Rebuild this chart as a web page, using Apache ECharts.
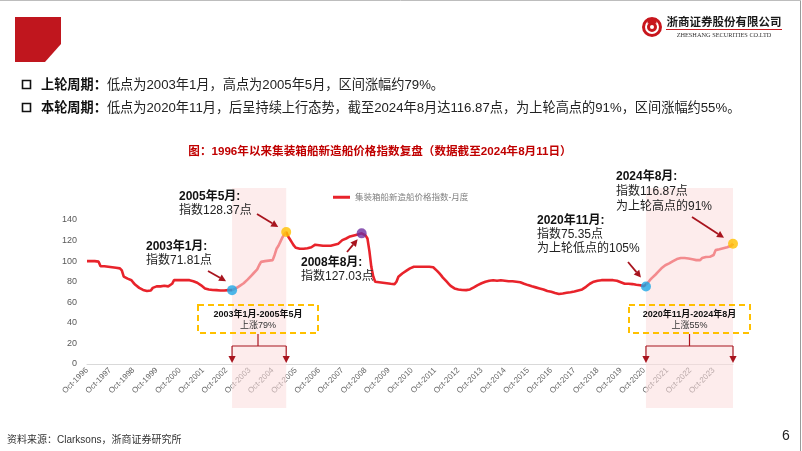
<!DOCTYPE html>
<html><head><meta charset="utf-8">
<script src="https://cdn.jsdelivr.net/npm/echarts@6/dist/echarts.min.js"></script>
<style>html,body{margin:0;padding:0;background:#fff}#c{width:802px;height:451px}</style>
</head><body><div id="c"></div>
<script>
// ---- data: monthly index values (Oct-1996 .. Aug-2024) ----
const y1996 = [100, 100, 100]; // Oct-Dec
const y1997 = [100, 100, 100, 99.5, 95, 95, 95, 94.5, 94.5, 94, 94, 94];
const y1998 = [93.5, 93, 93, 91, 85, 84, 83, 82, 81.5, 79, 77, 76];
const y1999 = [74, 72.5, 72, 71, 71, 71, 71.5, 74, 75.5, 75.5, 75, 75.5];
const y2000 = [75.5, 76, 76, 75.5, 76, 78, 81.5, 81.5, 81.5, 81.5, 81.5, 81.5];
const y2001 = [81.5, 81, 81.5, 81, 80.5, 80, 79, 78, 76.5, 75, 73.5, 73];
const y2002 = [72.5, 72, 72, 72, 71.8, 71.8, 71.5, 71.5, 71.5, 71.5, 71.8, 71.8];
const y2003 = [71.81, 72.5, 73.5, 75, 76, 77, 78.5, 80, 82, 84, 86, 88];
const y2004 = [89.6, 92, 96, 99.3, 100, 100, 100.5, 100.5, 101, 101, 106, 112];
const y2005 = [115, 119, 123, 126, 128.37, 124, 121, 118, 115, 113, 112.3, 112];
const y2006 = [112, 112, 112.3, 112.5, 112.3, 113.5, 115, 116, 116, 115.5, 115, 115];
const y2007 = [115, 115, 114.5, 115, 115.5, 116, 116, 117, 118.5, 120.4, 121.5, 122];
const y2008 = [123, 124, 124.3, 125, 125.5, 126, 126.5, 127.03, 126.5, 125, 122, 110];
const y2009 = [94.5, 85, 80, 79.5, 79.5, 79, 79, 78.5, 78.5, 78.3, 78, 78];
const y2010 = [77.7, 80, 84.8, 86.5, 88, 89, 90.5, 92, 93, 94, 94.5, 94.5];
const y2011 = [94.5, 94.5, 94.5, 94.5, 94.5, 94.5, 94.5, 94.3, 94, 92.5, 90.5, 88.5];
const y2012 = [86.4, 84, 82, 80, 78, 76, 74.5, 73.5, 73, 72.5, 72, 72];
const y2013 = [71.8, 71.8, 71.8, 72.5, 73.5, 74.5, 75.5, 76.7, 77.5, 78.5, 79, 80];
const y2014 = [80.5, 81, 81.5, 81.5, 81.5, 81, 81, 81.5, 81.5, 81, 80.8, 80.5];
const y2015 = [80.5, 80.5, 80.3, 80, 80, 79.5, 78.5, 78, 77.5, 76.7, 76, 75.5];
const y2016 = [75, 74.5, 74, 73.5, 73.5, 72.5, 71.5, 71, 70.5, 70.2, 69.5, 69];
const y2017 = [68.6, 68, 68, 68.5, 69, 69.2, 69.5, 69.8, 70, 70.5, 71, 71.5];
const y2018 = [71.8, 72.5, 73.5, 75, 76.5, 78, 79, 80, 80.5, 81, 81.5, 81.5];
const y2019 = [81.5, 81.5, 81.5, 81.5, 81.5, 81.5, 81.5, 81, 80.5, 79.5, 78.3, 78];
const y2020 = [78, 78, 77.7, 77.7, 77.5, 77, 77, 76.5, 76, 75.7, 75.35, 79];
const y2021 = [81.5, 83.5, 85, 87, 89, 91, 93, 94.5, 96, 97, 97.8, 99];
const y2022 = [100, 101, 102, 102.6, 103, 103, 103, 102.6, 102.6, 102, 101.8, 101.5];
const y2023 = [101, 101, 101, 103, 104.2, 104, 104.2, 104.2, 104.2, 106, 110.7, 111];
const y2024 = [111.5, 112, 112.5, 113, 113.5, 114, 115, 116.87]; // Jan-Aug

const seriesName = '集装箱船新造船价格指数-月度';
const monthAbbr = ['Jan','Feb','Mar','Apr','May','Jun','Jul','Aug','Sep','Oct','Nov','Dec'];
const startYear = 1996, startMonth = 9; // Oct
const yMin = 0, yMax = 140, yStep = 20;

const highlightCats = ['Jan-2003', 'May-2005', 'Aug-2008', 'Nov-2020', 'Aug-2024'];
const highlightColors = ['#1FA8E6', '#FFC000', '#7030A0', '#1FA8E6', '#FFC000'];
const cycles = [['Jan-2003', 'May-2005'], ['Nov-2020', 'Aug-2024']];
const cycleTitles = ['2003年1月-2005年5月', '2020年11月-2024年8月'];
const cycleGains = ['上涨79%', '上涨55%'];

const values = [].concat(y1996, y1997, y1998, y1999, y2000, y2001, y2002, y2003, y2004, y2005,
  y2006, y2007, y2008, y2009, y2010, y2011, y2012, y2013, y2014, y2015, y2016, y2017, y2018,
  y2019, y2020, y2021, y2022, y2023, y2024);
const categories = values.map((_, i) => {
  const t = startMonth + i;
  return monthAbbr[t % 12] + '-' + (startYear + Math.floor(t / 12));
});

const FONT = '"Liberation Sans", "Noto Sans CJK SC", sans-serif';
const chart = echarts.init(document.getElementById('c'), null, {renderer: 'canvas'});

const hlIdx = highlightCats.map(c => categories.indexOf(c));

chart.setOption({
  animation: false,
  backgroundColor: '#ffffff',
  textStyle: {fontFamily: FONT},
  grid: {left: 87, right: 69, top: 220, bottom: 87, containLabel: false},
  legend: {
    data: [seriesName], left: 333, top: 193, padding: 0, itemWidth: 17, itemHeight: 3, icon: 'rect',
    itemGap: 4, textStyle: {fontSize: 8.5, color: '#7f7f7f', fontFamily: FONT}
  },
  xAxis: {
    type: 'category', data: categories, boundaryGap: false,
    axisLine: {lineStyle: {color: '#D9D9D9', width: 1}},
    axisTick: {show: false},
    axisLabel: {interval: 11, rotate: 45, fontSize: 8, color: '#666666', margin: 5, fontFamily: FONT},
    splitLine: {show: false}
  },
  yAxis: {
    type: 'value', min: yMin, max: yMax, interval: yStep,
    axisLine: {show: false}, axisTick: {show: false}, splitLine: {show: false},
    axisLabel: {fontSize: 9, color: '#595959', margin: 10, fontFamily: FONT}
  },
  series: [{
    name: seriesName, type: 'line', data: values, showSymbol: false, symbol: 'none',
    lineStyle: {color: '#E8232B', width: 2.6}, itemStyle: {color: '#E8232B'}, z: 2
  }, {
    name: 'marks', type: 'scatter', symbolSize: 10, z: 10,
    data: hlIdx.map((ix, k) => ({value: [ix, values[ix]], itemStyle: {color: highlightColors[k]}}))
  }]
});

// ----- annotations built on the library's own pixel conversion -----
const P = (ix, v) => chart.convertToPixel({gridIndex: 0}, [ix, v]);
const dots = hlIdx.map(ix => P(ix, values[ix]));
const axisY = P(0, 0)[1];

const DARK = '#A8141E';
function arrow(x1, y1, x2, y2, color, w) {
  const a = Math.atan2(y2 - y1, x2 - x1), L = 7, W = 3.6;
  const bx = x2 - L * Math.cos(a), by = y2 - L * Math.sin(a);
  const nx = -Math.sin(a), ny = Math.cos(a);
  return [
    {type: 'line', z: 20, shape: {x1, y1, x2: bx, y2: by}, style: {stroke: color, lineWidth: w}},
    {type: 'polygon', z: 20, shape: {points: [[x2, y2], [bx + nx * W, by + ny * W], [bx - nx * W, by - ny * W]]}, style: {fill: color}}
  ];
}
function txt(x, y, text, font, fill, align) {
  return {type: 'text', z: 20, style: {x, y, text, font, fill, textAlign: align || 'left', textVerticalAlign: 'middle'}};
}
const BOLD12 = 'bold 12px ' + FONT, NORM12 = '12px ' + FONT;

const g = [];
// slide frame & header
g.push({type: 'line', z: 1, shape: {x1: 800.5, y1: 0, x2: 800.5, y2: 451}, style: {stroke: '#9a9a9a', lineWidth: 1}});
g.push({type: 'line', z: 1, shape: {x1: 0, y1: 0.5, x2: 801, y2: 0.5}, style: {stroke: '#bdbdbd', lineWidth: 1}});
g.push({type: 'polygon', z: 1, shape: {points: [[15, 17], [61, 17], [61, 44], [45, 62], [15, 62]]}, style: {fill: '#C0161E'}});
// logo
g.push({type: 'circle', z: 1, shape: {cx: 652, cy: 27, r: 10}, style: {fill: '#C8161D'}});
g.push({type: 'circle', z: 2, shape: {cx: 652, cy: 27, r: 6}, style: {fill: 'none', stroke: '#fff', lineWidth: 2}});
g.push({type: 'rect', z: 3, shape: {x: 647.5, y: 18, width: 9, height: 5.5}, style: {fill: '#C8161D'}});
g.push({type: 'circle', z: 4, shape: {cx: 652, cy: 27, r: 2}, style: {fill: '#fff'}});
g.push(txt(724, 22, '浙商证券股份有限公司', 'bold 11.5px "Noto Sans CJK SC", serif', '#1a1a1a', 'center'));
g.push({type: 'line', z: 1, shape: {x1: 666, y1: 29.5, x2: 782, y2: 29.5}, style: {stroke: '#C8161D', lineWidth: 1}});
g.push(txt(724, 35, 'ZHESHANG SECURITIES CO.LTD', '6.3px "Liberation Serif", serif', '#333', 'center'));

// bullets
function bullet(y, head, rest) {
  g.push({type: 'rect', z: 1, shape: {x: 22.5, y: y - 4.5, width: 8, height: 8}, style: {fill: 'none', stroke: '#111', lineWidth: 1.6}});
  g.push({type: 'text', z: 1, style: {x: 41, y, text: '{b|' + head + '}{n|' + rest + '}', textVerticalAlign: 'middle',
    rich: {b: {font: 'bold 13.2px ' + FONT, fill: '#111'}, n: {font: '13.2px ' + FONT, fill: '#222'}}}});
}
bullet(85, '上轮周期：', '低点为2003年1月，高点为2005年5月，区间涨幅约79%。');
bullet(108, '本轮周期：', '低点为2020年11月，后呈持续上行态势，截至2024年8月达116.87点，为上轮高点的91%，区间涨幅约55%。');

// chart title
g.push(txt(380, 152, '图：1996年以来集装箱船新造船价格指数复盘（数据截至2024年8月11日）', 'bold 11.6px ' + FONT, '#C00000', 'center'));

// shaded cycles (over the line, under the dots)
const shadeTop = 188, shadeBottom = 408;
cycles.forEach(([a, b]) => {
  const xa = P(categories.indexOf(a), 0)[0], xb = P(categories.indexOf(b), 0)[0];
  g.push({type: 'rect', z: 5, shape: {x: xa, y: shadeTop, width: xb - xa, height: shadeBottom - shadeTop},
    style: {fill: 'rgba(251,222,222,0.56)'}});
});

// dashed boxes + brackets
const boxes = [{x: 198, w: 120}, {x: 629, w: 121}];
cycles.forEach(([a, b], k) => {
  const bx = boxes[k];
  const cx = bx.x + bx.w / 2;
  g.push({type: 'rect', z: 20, shape: {x: bx.x, y: 305, width: bx.w, height: 28},
    style: {fill: 'none', stroke: '#FFC000', lineWidth: 2, lineDash: [6, 4]}});
  g.push(txt(cx, 314.5, cycleTitles[k], 'bold 9px ' + FONT, '#111', 'center'));
  g.push(txt(cx, 325.5, cycleGains[k], '9px ' + FONT, '#333', 'center'));
  const xa = P(categories.indexOf(a), 0)[0], xb = P(categories.indexOf(b), 0)[0];
  g.push({type: 'polyline', z: 20, shape: {points: [[cx, 334], [cx, 346]]}, style: {stroke: DARK, lineWidth: 1.2}});
  g.push({type: 'polyline', z: 20, shape: {points: [[xa, 346], [xb, 346]]}, style: {stroke: DARK, lineWidth: 1.2}});
  g.push(...arrow(xa, 346, xa, axisY - 1, DARK, 1.2));
  g.push(...arrow(xb, 346, xb, axisY - 1, DARK, 1.2));
});

// point annotations
const d = dots;
g.push(txt(146, 247, '2003年1月:', BOLD12, '#111'));
g.push(txt(146, 261, '指数71.81点', NORM12, '#222'));
g.push(...arrow(208, 271, d[0][0] - 6, d[0][1] - 9, DARK, 1.8));

g.push(txt(179, 197, '2005年5月:', BOLD12, '#111'));
g.push(txt(179, 211, '指数128.37点', NORM12, '#222'));
g.push(...arrow(257, 214, d[1][0] - 8, d[1][1] - 5, DARK, 1.8));

g.push(txt(301, 263, '2008年8月:', BOLD12, '#111'));
g.push(txt(301, 277, '指数127.03点', NORM12, '#222'));
g.push(...arrow(347, 252, d[2][0] - 4, d[2][1] + 6, DARK, 1.8));

g.push(txt(537, 221, '2020年11月:', BOLD12, '#111'));
g.push(txt(537, 235, '指数75.35点', NORM12, '#222'));
g.push(txt(537, 249, '为上轮低点的105%', NORM12, '#222'));
g.push(...arrow(628, 262, d[3][0] - 5, d[3][1] - 9, DARK, 1.8));

g.push(txt(616, 177, '2024年8月:', BOLD12, '#111'));
g.push(txt(616, 192, '指数116.87点', NORM12, '#222'));
g.push(txt(616, 207, '为上轮高点的91%', NORM12, '#222'));
g.push(...arrow(692, 217, d[4][0] - 9, d[4][1] - 6, DARK, 1.8));

// footer
g.push(txt(7, 440, '资料来源：Clarksons，浙商证券研究所', '10px ' + FONT, '#333'));
g.push(txt(786, 436, '6', '14px ' + FONT, '#222', 'center'));

chart.setOption({graphic: {elements: g}});
</script></body></html>
